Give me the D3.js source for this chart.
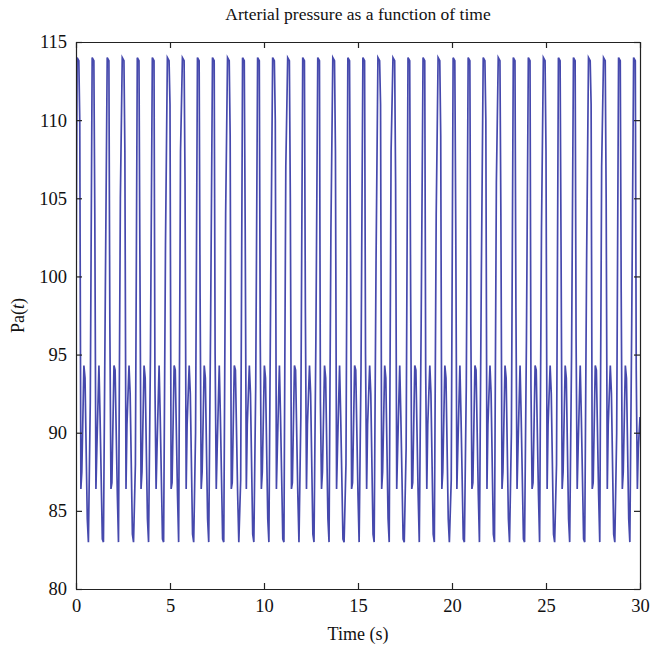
<!DOCTYPE html>
<html>
<head>
<meta charset="utf-8">
<script src="https://cdn.jsdelivr.net/npm/d3@7"></script>
<style>
  html, body { margin: 0; padding: 0; background: #fff; }
  text { font-family: "Liberation Serif", "DejaVu Serif", serif; fill: #111; }
</style>
</head>
<body>
<svg id="chart" width="650" height="652"></svg>
<script>
// ---- Data ----
const chartTitle = "Arterial pressure as a function of time";
const xLabel = "Time (s)";
const xTicks = [0, 5, 10, 15, 20, 25, 30];
const yTicks = [80, 85, 90, 95, 100, 105, 110, 115];

// time samples (s)
const time = [
  0.00,
  0.06, 0.15, 0.20, 0.26, 0.31, 0.42, 0.48, 0.60, 0.66, 0.76,
  0.86, 0.95, 1.00, 1.06, 1.11, 1.22, 1.28, 1.40, 1.46, 1.56,
  1.66, 1.75, 1.80, 1.86, 1.91, 2.02, 2.08, 2.20, 2.26, 2.36,
  2.46, 2.55, 2.60, 2.66, 2.71, 2.82, 2.88, 3.00, 3.06, 3.16,
  3.26, 3.35, 3.40, 3.46, 3.51, 3.62, 3.68, 3.80, 3.86, 3.96,
  4.06, 4.15, 4.20, 4.26, 4.31, 4.42, 4.48, 4.60, 4.66, 4.76,
  4.86, 4.95, 5.00, 5.06, 5.11, 5.22, 5.28, 5.40, 5.46, 5.56,
  5.66, 5.75, 5.80, 5.86, 5.91, 6.02, 6.08, 6.20, 6.26, 6.36,
  6.46, 6.55, 6.60, 6.66, 6.71, 6.82, 6.88, 7.00, 7.06, 7.16,
  7.26, 7.35, 7.40, 7.46, 7.51, 7.62, 7.68, 7.80, 7.86, 7.96,
  8.06, 8.15, 8.20, 8.26, 8.31, 8.42, 8.48, 8.60, 8.66, 8.76,
  8.86, 8.95, 9.00, 9.06, 9.11, 9.22, 9.28, 9.40, 9.46, 9.56,
  9.66, 9.75, 9.80, 9.86, 9.91, 10.02, 10.08, 10.20, 10.26, 10.36,
  10.46, 10.55, 10.60, 10.66, 10.71, 10.82, 10.88, 11.00, 11.06, 11.16,
  11.26, 11.35, 11.40, 11.46, 11.51, 11.62, 11.68, 11.80, 11.86, 11.96,
  12.06, 12.15, 12.20, 12.26, 12.31, 12.42, 12.48, 12.60, 12.66, 12.76,
  12.86, 12.95, 13.00, 13.06, 13.11, 13.22, 13.28, 13.40, 13.46, 13.56,
  13.66, 13.75, 13.80, 13.86, 13.91, 14.02, 14.08, 14.20, 14.26, 14.36,
  14.46, 14.55, 14.60, 14.66, 14.71, 14.82, 14.88, 15.00, 15.06, 15.16,
  15.26, 15.35, 15.40, 15.46, 15.51, 15.62, 15.68, 15.80, 15.86, 15.96,
  16.06, 16.15, 16.20, 16.26, 16.31, 16.42, 16.48, 16.60, 16.66, 16.76,
  16.86, 16.95, 17.00, 17.06, 17.11, 17.22, 17.28, 17.40, 17.46, 17.56,
  17.66, 17.75, 17.80, 17.86, 17.91, 18.02, 18.08, 18.20, 18.26, 18.36,
  18.46, 18.55, 18.60, 18.66, 18.71, 18.82, 18.88, 19.00, 19.06, 19.16,
  19.26, 19.35, 19.40, 19.46, 19.51, 19.62, 19.68, 19.80, 19.86, 19.96,
  20.06, 20.15, 20.20, 20.26, 20.31, 20.42, 20.48, 20.60, 20.66, 20.76,
  20.86, 20.95, 21.00, 21.06, 21.11, 21.22, 21.28, 21.40, 21.46, 21.56,
  21.66, 21.75, 21.80, 21.86, 21.91, 22.02, 22.08, 22.20, 22.26, 22.36,
  22.46, 22.55, 22.60, 22.66, 22.71, 22.82, 22.88, 23.00, 23.06, 23.16,
  23.26, 23.35, 23.40, 23.46, 23.51, 23.62, 23.68, 23.80, 23.86, 23.96,
  24.06, 24.15, 24.20, 24.26, 24.31, 24.42, 24.48, 24.60, 24.66, 24.76,
  24.86, 24.95, 25.00, 25.06, 25.11, 25.22, 25.28, 25.40, 25.46, 25.56,
  25.66, 25.75, 25.80, 25.86, 25.91, 26.02, 26.08, 26.20, 26.26, 26.36,
  26.46, 26.55, 26.60, 26.66, 26.71, 26.82, 26.88, 27.00, 27.06, 27.16,
  27.26, 27.35, 27.40, 27.46, 27.51, 27.62, 27.68, 27.80, 27.86, 27.96,
  28.06, 28.15, 28.20, 28.26, 28.31, 28.42, 28.48, 28.60, 28.66, 28.76,
  28.86, 28.95, 29.00, 29.06, 29.11, 29.22, 29.28, 29.40, 29.46, 29.56,
  29.66, 29.75, 29.80, 29.86, 29.91, 30.00
];

// arterial pressure Pa(t) samples
const pressure = [
  98.5,
  114, 113.8, 110, 86.4, 87.5, 94.3, 93.5, 84.5, 83, 92,
  114, 113.8, 104, 86.4, 89.0, 94.3, 91.0, 83.2, 83, 99,
  114, 113.8, 97, 86.4, 86.8, 94.3, 94.0, 86.0, 83, 105,
  114, 113.8, 108, 86.4, 90.5, 94.3, 92.5, 83.5, 83, 88,
  114, 113.8, 101, 86.4, 87.5, 94.3, 93.5, 84.5, 83, 95,
  114, 113.8, 93, 86.4, 89.0, 94.3, 91.0, 83.2, 83, 102,
  114, 113.8, 111, 86.4, 86.8, 94.3, 94.0, 86.0, 83, 108,
  114, 113.8, 106, 86.4, 90.5, 94.3, 92.5, 83.5, 83, 90,
  114, 113.8, 99, 86.4, 87.5, 94.3, 93.5, 84.5, 83, 97,
  114, 113.8, 95, 86.4, 89.0, 94.3, 91.0, 83.2, 83, 104,
  114, 113.8, 109, 86.4, 86.8, 94.3, 94.0, 86.0, 83, 87,
  114, 113.8, 103, 86.4, 90.5, 94.3, 92.5, 83.5, 83, 93,
  114, 113.8, 96, 86.4, 87.5, 94.3, 93.5, 84.5, 83, 100,
  114, 113.8, 110, 86.4, 89.0, 94.3, 91.0, 83.2, 83, 107,
  114, 113.8, 105, 86.4, 86.8, 94.3, 94.0, 86.0, 83, 91,
  114, 113.8, 98, 86.4, 90.5, 94.3, 92.5, 83.5, 83, 96,
  114, 113.8, 92, 86.4, 87.5, 94.3, 93.5, 84.5, 83, 103,
  114, 113.8, 108, 86.4, 89.0, 94.3, 91.0, 83.2, 83, 88,
  114, 113.8, 102, 86.4, 86.8, 94.3, 94.0, 86.0, 83, 94,
  114, 113.8, 95, 86.4, 90.5, 94.3, 92.5, 83.5, 83, 101,
  114, 113.8, 111, 86.4, 87.5, 94.3, 93.5, 84.5, 83, 108,
  114, 113.8, 106, 86.4, 89.0, 94.3, 91.0, 83.2, 83, 89,
  114, 113.8, 99, 86.4, 86.8, 94.3, 94.0, 86.0, 83, 97,
  114, 113.8, 94, 86.4, 90.5, 94.3, 92.5, 83.5, 83, 104,
  114, 113.8, 109, 86.4, 87.5, 94.3, 93.5, 84.5, 83, 87,
  114, 113.8, 103, 86.4, 89.0, 94.3, 91.0, 83.2, 83, 93,
  114, 113.8, 97, 86.4, 86.8, 94.3, 94.0, 86.0, 83, 100,
  114, 113.8, 110, 86.4, 90.5, 94.3, 92.5, 83.5, 83, 106,
  114, 113.8, 104, 86.4, 87.5, 94.3, 93.5, 84.5, 83, 90,
  114, 113.8, 98, 86.4, 89.0, 94.3, 91.0, 83.2, 83, 96,
  114, 113.8, 93, 86.4, 86.8, 94.3, 94.0, 86.0, 83, 103,
  114, 113.8, 108, 86.4, 90.5, 94.3, 92.5, 83.5, 83, 88,
  114, 113.8, 102, 86.4, 87.5, 94.3, 93.5, 84.5, 83, 95,
  114, 113.8, 96, 86.4, 89.0, 94.3, 91.0, 83.2, 83, 101,
  114, 113.8, 111, 86.4, 86.8, 94.3, 94.0, 86.0, 83, 107,
  114, 113.8, 105, 86.4, 90.5, 94.3, 92.5, 83.5, 83, 90,
  114, 113.8, 99, 86.4, 87.5, 94.3, 93.5, 84.5, 83, 97,
  114, 113.8, 94, 86.4, 89.0, 91.0
];

// ---- Layout ----
const svg = d3.select("#chart");
const margin = { left: 76, right: 10, top: 42, bottom: 63 };
const W = 650, H = 652;
const iw = W - margin.left - margin.right;
const ih = H - margin.top - margin.bottom;

const x = d3.scaleLinear().domain([0, 30]).range([margin.left, margin.left + iw]);
const y = d3.scaleLinear().domain([80, 115]).range([margin.top + ih, margin.top]);

const series = time.map((t, i) => ({ t, p: pressure[i] }));

svg.append("defs").append("clipPath").attr("id", "clip")
  .append("rect").attr("x", margin.left).attr("y", margin.top)
  .attr("width", iw).attr("height", ih);

const line = d3.line().x(d => x(d.t)).y(d => y(d.p));
svg.append("path")
  .datum(series)
  .attr("clip-path", "url(#clip)")
  .attr("fill", "none")
  .attr("stroke", "#4649ad")
  .attr("stroke-width", 1.7)
  .attr("stroke-linejoin", "miter")
  .attr("d", line);

// Axes (inward ticks, boxed)
const tickLen = 6;
const axisStyle = g => {
  g.selectAll(".domain").attr("stroke", "#222").attr("stroke-width", 1.2);
  g.selectAll(".tick line").attr("stroke", "#222").attr("stroke-width", 1.2);
};

const xAxisBottom = svg.append("g")
  .attr("transform", `translate(0,${margin.top + ih})`)
  .call(d3.axisBottom(x).tickValues(xTicks).tickSizeInner(-tickLen).tickSizeOuter(0).tickPadding(10))
  .call(axisStyle);
xAxisBottom.selectAll("text").attr("font-size", 18.5).attr("font-family", "Liberation Serif").attr("fill", "#111");

svg.append("g")
  .attr("transform", `translate(0,${margin.top})`)
  .call(d3.axisTop(x).tickValues(xTicks).tickSizeInner(-tickLen).tickSizeOuter(0).tickFormat(""))
  .call(axisStyle);

const yAxisLeft = svg.append("g")
  .attr("transform", `translate(${margin.left},0)`)
  .call(d3.axisLeft(y).tickValues(yTicks).tickSizeInner(-tickLen).tickSizeOuter(0).tickPadding(9))
  .call(axisStyle);
yAxisLeft.selectAll("text").attr("font-size", 18.5).attr("font-family", "Liberation Serif").attr("fill", "#111");

svg.append("g")
  .attr("transform", `translate(${margin.left + iw},0)`)
  .call(d3.axisRight(y).tickValues(yTicks).tickSizeInner(-tickLen).tickSizeOuter(0).tickFormat(""))
  .call(axisStyle);

// Title
svg.append("text")
  .attr("x", margin.left + iw / 2).attr("y", 20)
  .attr("text-anchor", "middle").attr("font-size", 17.5)
  .text(chartTitle);

// X label
svg.append("text")
  .attr("x", margin.left + iw / 2).attr("y", 640)
  .attr("text-anchor", "middle").attr("font-size", 18)
  .text(xLabel);

// Y label Pa(t)
const yl = svg.append("text")
  .attr("transform", `translate(24,${margin.top + ih / 2}) rotate(-90)`)
  .attr("text-anchor", "middle").attr("font-size", 18);
yl.append("tspan").text("Pa(");
yl.append("tspan").attr("font-style", "italic").text("t");
yl.append("tspan").text(")");
</script>
</body>
</html>
